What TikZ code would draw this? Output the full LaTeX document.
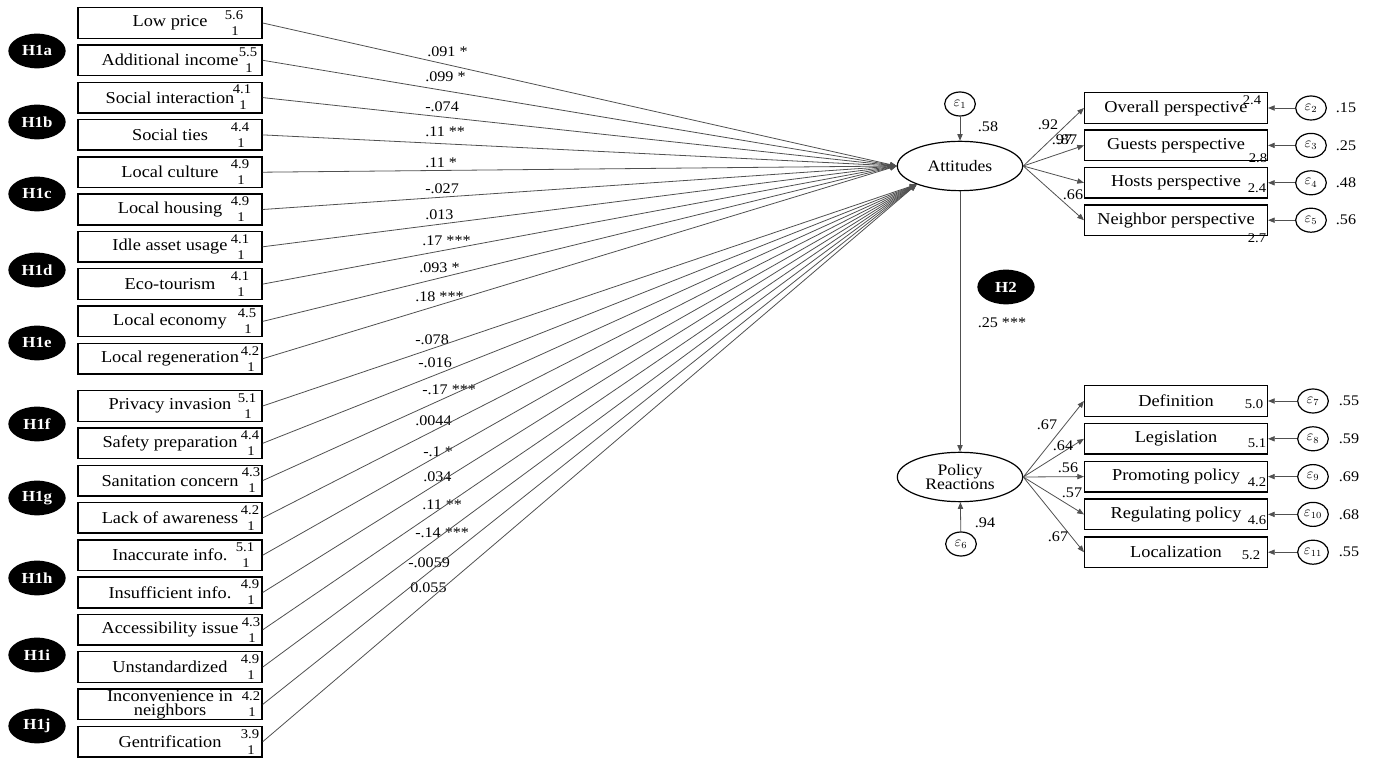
\documentclass[tikz,border=0pt]{standalone}
\usepackage{fontspec}
\setmainfont{Liberation Serif}[FakeStretch=1.1]
\usetikzlibrary{arrows.meta,positioning,shapes.geometric}
\definecolor{linkgray}{HTML}{505050}

\begin{document}
\begin{tikzpicture}[x=0.75pt,y=-0.75pt,
  obs/.style={draw, line width=1.1pt, minimum width=138pt, minimum height=23pt, inner sep=0pt, align=center, font=\fontsize{12.5}{10.5}\selectfont},
  lat/.style={draw, ellipse, line width=0.9pt, minimum width=94pt, minimum height=37pt, inner sep=0pt, align=center, font=\fontsize{12}{11}\selectfont},
  err/.style={draw, ellipse, line width=0.9pt, minimum width=23pt, minimum height=18pt, inner sep=0pt, font=\fontsize{10.5}{10}\selectfont},
  hyp/.style={ellipse, fill=black, text=white, minimum width=43pt, minimum height=26pt, inner sep=0pt, font=\bfseries\fontsize{11.5}{12}\selectfont},
  mean/.style={font=\fontsize{10}{10}\selectfont, inner sep=0pt},
  coef/.style={font=\fontsize{11}{11}\selectfont, inner sep=0pt},
  link/.style={draw=linkgray, line width=0.6pt, -{Triangle[length=5pt,width=4pt]}},
]
\useasboundingbox (0,0) rectangle (1379,762);

% exogenous items
\foreach \lab/\mn/\mx/\cf/\cx/\cy [count=\i] in {
  Low price/5.6/234/.091 */427/52,
  Additional income/5.5/248/.099 */425/77,
  Social interaction/4.1/242/-.074/425/107,
  Social ties/4.4/240/.11 **/425/132,
  Local culture/4.9/240/.11 */425/163,
  Local housing/4.9/240/-.027/425/189,
  Idle asset usage/4.1/240/.013/425/215,
  Eco-tourism/4.1/240/.17 ***/422/241,
  Local economy/4.5/247/.093 */419/268,
  Local regeneration/4.2/250/.18 ***/415/297,
  Privacy invasion/5.1/247/-.078/415/340,
  Safety preparation/4.4/250/-.016/418/363,
  Sanitation concern/4.3/251/-.17 ***/422/390,
  Lack of awareness/4.2/250/.0044/415/421,
  Inaccurate info./5.1/245/-.1 */423/452,
  Insufficient info./4.9/250/.034/423/477,
  Accessibility issue/4.3/251/.11 **/422/505,
  Unstandardized/4.9/250/-.14 ***/415/533,
  {Inconvenience in\\neighbors}/4.2/251/-.0059/408/563,
  Gentrification/3.9/250/0.055/410/588}{
  \pgfmathsetmacro\yy{23+(\i-1)*37.3+(\i>10)*10}
  \node[obs] (b\i) at (170,\yy) {\lab};
  \node[mean] (m\i) at (\mx,\yy-8) {\mn};
  \node[mean] (n\i) at (\mx+1,\yy+8) {1};
  \node[coef, anchor=west] (c\i) at (\cx,\cy) {\cf};
}

\foreach \h/\hy in {a/51,b/122,c/194,d/270,e/343,f/424,g/498,h/578,i/655,j/726}
  \node[hyp] (h\h) at (37,\hy) {H1\h};

% latent variables
\node[lat] (att) at (960,166) {Attitudes};
\node[lat] (pol) at (960,477) {Policy\\Reactions};
\node[err] (e1) at (960,104) {$\varepsilon_{1}$};
\node[err] (e6) at (961,544) {$\varepsilon_{6}$};
\node[coef] (r1) at (988,127) {.58};
\node[coef] (r6) at (985,523) {.94};
\node[hyp] (h2) at (1006,287) {H2};
\node[coef] (g2) at (1002,323) {.25 ***};
\draw[link] (e1) -- (att);
\draw[link] (e6) -- (pol);
\draw[link] (att) -- (pol);

\foreach \i in {1,...,10}
  \draw[link] (b\i.east) -- (att.west);
\foreach \i in {11,...,20}
  \draw[link] (b\i.east) -- (att.203);

% attitude indicators
\foreach \lab/\mn/\mx/\my/\ev/\cf [count=\k] in {
  Overall perspective/2.4/1252/100/2/.15,
  Guests perspective/2.8/1258/158/3/.25,
  Hosts perspective/2.4/1257/188/4/.48,
  Neighbor perspective/2.7/1257/238/5/.56}{
  \pgfmathsetmacro\yy{108+(\k-1)*37.4}
  \node[obs, minimum width=137pt] (a\k) at (1176,\yy) {\lab};
  \node[mean] (am\k) at (\mx,\my) {\mn};
  \node[err] (ae\k) at (1311,\yy) {$\varepsilon_{\ev}$};
  \node[coef] (av\k) at (1346,\yy) {\cf};
  \draw[link] (att.east) -- (a\k.west);
  \draw[link] (ae\k) -- (a\k.east);
}
\node[coef] (l1) at (1048,125) {.92};
\node[coef] (l2) at (1062,140) {.97};
\node[coef] (l3) at (1067,140) {.87};
\node[coef] (l4) at (1073,195) {.66};

% policy indicators
\foreach \lab/\mn/\mx/\my/\ev/\cf [count=\k] in {
  Definition/5.0/1254/404/7/.55,
  Legislation/5.1/1257/443/8/.59,
  Promoting policy/4.2/1257/482/9/.69,
  Regulating policy/4.6/1257/520/10/.68,
  Localization/5.2/1251/555/11/.55}{
  \pgfmathsetmacro\yy{401+(\k-1)*37.8}
  \node[obs, minimum width=137pt] (p\k) at (1176,\yy) {\lab};
  \node[mean] (pm\k) at (\mx,\my) {\mn};
  \node[err] (pe\k) at (1313,\yy) {$\varepsilon_{\ev}$};
  \node[coef] (pv\k) at (1349,\yy) {\cf};
  \draw[link] (pol.east) -- (p\k.west);
  \draw[link] (pe\k) -- (p\k.east);
}
\node[coef] (k1) at (1047,425) {.67};
\node[coef] (k2) at (1063,446) {.64};
\node[coef] (k3) at (1068,468) {.56};
\node[coef] (k4) at (1072,493) {.57};
\node[coef] (k5) at (1058,537) {.67};
\end{tikzpicture}
\end{document}
